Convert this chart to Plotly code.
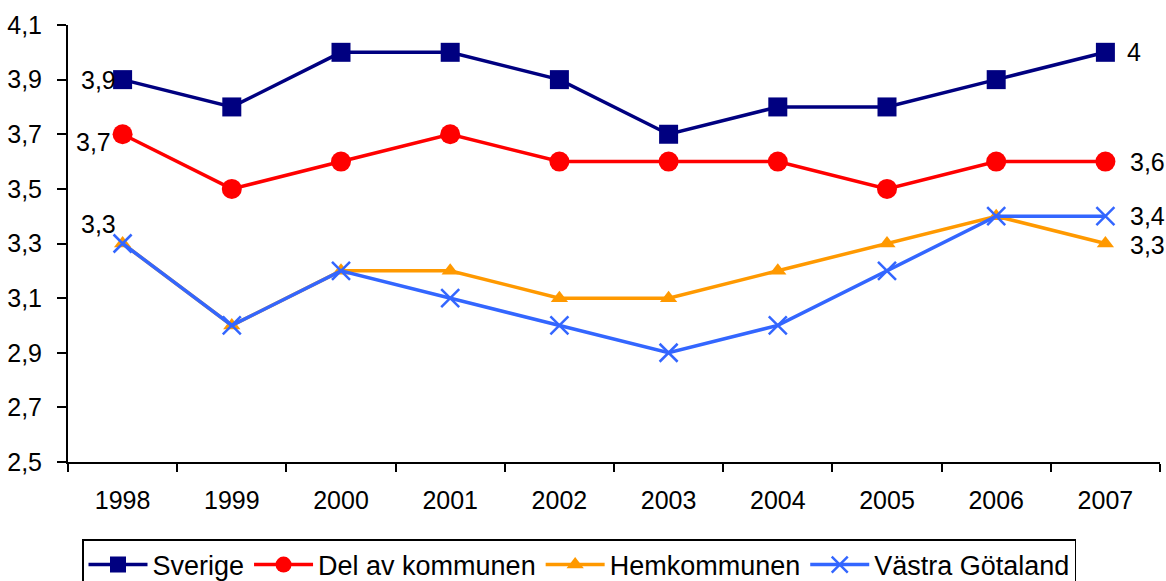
import plotly.graph_objects as go

years = ["1998", "1999", "2000", "2001", "2002", "2003", "2004", "2005", "2006", "2007"]
sverige = [3.9, 3.8, 4.0, 4.0, 3.9, 3.7, 3.8, 3.8, 3.9, 4.0]
del_av_kommunen = [3.7, 3.5, 3.6, 3.7, 3.6, 3.6, 3.6, 3.5, 3.6, 3.6]
hemkommunen = [3.3, 3.0, 3.2, 3.2, 3.1, 3.1, 3.2, 3.3, 3.4, 3.3]
vastra_gotaland = [3.3, 3.0, 3.2, 3.1, 3.0, 2.9, 3.0, 3.2, 3.4, 3.4]
y_ticks = [2.5, 2.7, 2.9, 3.1, 3.3, 3.5, 3.7, 3.9, 4.1]

FONT = "Liberation Sans, Arial, sans-serif"
FS = 25
LEG_FS = 27

def fmt(v):
    s = ("%.1f" % v).rstrip("0").rstrip(".")
    return s.replace(".", ",")

fig = go.Figure()
fig.add_trace(go.Scatter(x=years, y=sverige, name="Sverige", mode="lines+markers",
                         line=dict(color="#000080", width=3.5),
                         marker=dict(symbol="square", size=19, color="#000080")))
fig.add_trace(go.Scatter(x=years, y=del_av_kommunen, name="Del av kommunen", mode="lines+markers",
                         line=dict(color="#FF0000", width=3.5),
                         marker=dict(symbol="circle", size=20, color="#FF0000")))
fig.add_trace(go.Scatter(x=years, y=hemkommunen, name="Hemkommunen", mode="lines+markers",
                         line=dict(color="#FF9900", width=3.5),
                         marker=dict(symbol="triangle-up", size=15, color="#FF9900")))
fig.add_trace(go.Scatter(x=years, y=vastra_gotaland, name="Västra Götaland", mode="lines+markers",
                         line=dict(color="#3366FF", width=3.5),
                         marker=dict(symbol="x-thin-open", size=18, color="#3366FF",
                                     line=dict(color="#3366FF", width=2.5))))

ann_font = dict(family=FONT, size=FS, color="black")
i_first = 0
i_last = len(years) - 1
first = [(sverige, -24, 0), (del_av_kommunen, -29, -8), (hemkommunen, -24, 20)]
for series, xs, ys in first:
    fig.add_annotation(x=i_first, y=series[i_first], xref="x", yref="y",
                       text=fmt(series[i_first]), showarrow=False,
                       xshift=xs, yshift=ys, font=ann_font)
last = [(sverige, 29, 0), (del_av_kommunen, 42, 0), (vastra_gotaland, 42, 0), (hemkommunen, 42, -1)]
for series, xs, ys in last:
    fig.add_annotation(x=i_last, y=series[i_last], xref="x", yref="y",
                       text=fmt(series[i_last]), showarrow=False,
                       xshift=xs, yshift=ys, font=ann_font)

fig.update_layout(
    width=1166, height=581,
    margin=dict(l=68, r=6, t=25, b=119, autoexpand=False),
    paper_bgcolor="white", plot_bgcolor="white",
    font=dict(family=FONT, size=FS, color="black"),
    showlegend=True,
    legend=dict(orientation="h", xref="container", yref="container",
                x=82 / 1166, xanchor="left", y=1 - 539 / 581, yanchor="top",
                bordercolor="black", borderwidth=1.5, font=dict(family=FONT, size=LEG_FS),
                itemwidth=59, tracegroupgap=0),
    xaxis=dict(type="category", showline=True, linecolor="black", linewidth=2,
               ticks="outside", tickson="boundaries", ticklen=8, tickwidth=2, tickcolor="black",
               showgrid=False, zeroline=False, range=[-0.5, 9.5], ticklabelstandoff=15,
               automargin=False, tickfont=dict(family=FONT, size=FS)),
    yaxis=dict(range=[2.5, 4.1], tickvals=y_ticks, ticktext=[fmt(v) for v in y_ticks],
               showline=True, linecolor="black", linewidth=2, ticks="outside", ticklen=9,
               tickwidth=2, tickcolor="black", showgrid=False, zeroline=False,
               ticklabelstandoff=10,
               automargin=False, tickfont=dict(family=FONT, size=FS)),
)

fig.write_html("out.html", config={"displayModeBar": False},
               post_script="document.body.style.margin='0';document.body.style.overflow='hidden';")
